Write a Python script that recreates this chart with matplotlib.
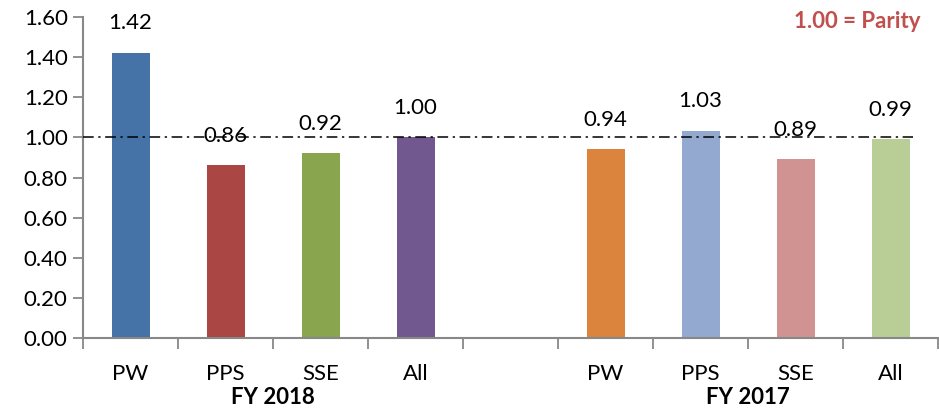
import numpy as np
import matplotlib
matplotlib.use('Agg')
import matplotlib.pyplot as plt

plt.rcParams['font.family'] = ['Lato', 'DejaVu Sans']

categories = ['PW', 'PPS', 'SSE', 'All', '', 'PW', 'PPS', 'SSE', 'All']
values = [1.42, 0.86, 0.92, 1.00, None, 0.94, 1.03, 0.89, 0.99]
colors = ['#4572A7', '#AA4643', '#89A54E', '#71588F', None,
          '#DB843D', '#93A9CF', '#D19392', '#B9CD96']
groups = ['FY 2018', 'FY 2017']
group_pos = [1.5, 6.5]
parity = 1.00
yticks = np.arange(0, 1.61, 0.2)

fs = 16

fig = plt.figure(figsize=(9.39, 4.08), dpi=100)
ax = fig.add_axes([83/939, 1-338/408, 855/939, 321/408])

x = np.arange(len(categories))
for xi, v, c in zip(x, values, colors):
    if v is None:
        continue
    ax.bar(xi, v, width=0.4, color=c, zorder=2)
    ax.annotate('%.2f' % v, (xi, v), xytext=(0, 21.5), textcoords='offset points',
                ha='center', va='center', fontsize=fs, zorder=1)

# parity reference line
ax.plot([-0.5, 8.24], [parity, parity], color='black', lw=1.1,
        dashes=(7, 3, 1.5, 3), zorder=3)

ax.set_xlim(-0.5, 8.5)
ax.set_ylim(0, 1.6)
ax.set_yticks(yticks)
ax.set_yticklabels(['%.2f' % t for t in yticks], fontsize=fs)
ax.tick_params(axis='y', direction='out', length=7, width=1.3, color='#888888', pad=4)

ax.set_xticks(x)
ax.set_xticklabels(categories, fontsize=fs)
ax.set_xticks(np.arange(-0.5, 8.6, 1), minor=True)
ax.tick_params(axis='x', which='major', length=0, pad=18.5)
ax.tick_params(axis='x', which='minor', direction='out', length=8, width=1.3, color='#888888')

for s in ['top', 'right']:
    ax.spines[s].set_visible(False)
for s in ['left', 'bottom']:
    ax.spines[s].set_color('#888888')
    ax.spines[s].set_linewidth(1.5)

for g, gp in zip(groups, group_pos):
    ax.text(gp, -0.295, g, ha='center', va='center', fontsize=fs,
            fontweight='bold', transform=ax.transData, clip_on=False)

fig.text(857/939, 1-21/408, '1.00 = Parity', color='#C0504D', fontsize=fs,
         fontweight='bold', ha='center', va='center')

fig.savefig('out.png', dpi=100)
